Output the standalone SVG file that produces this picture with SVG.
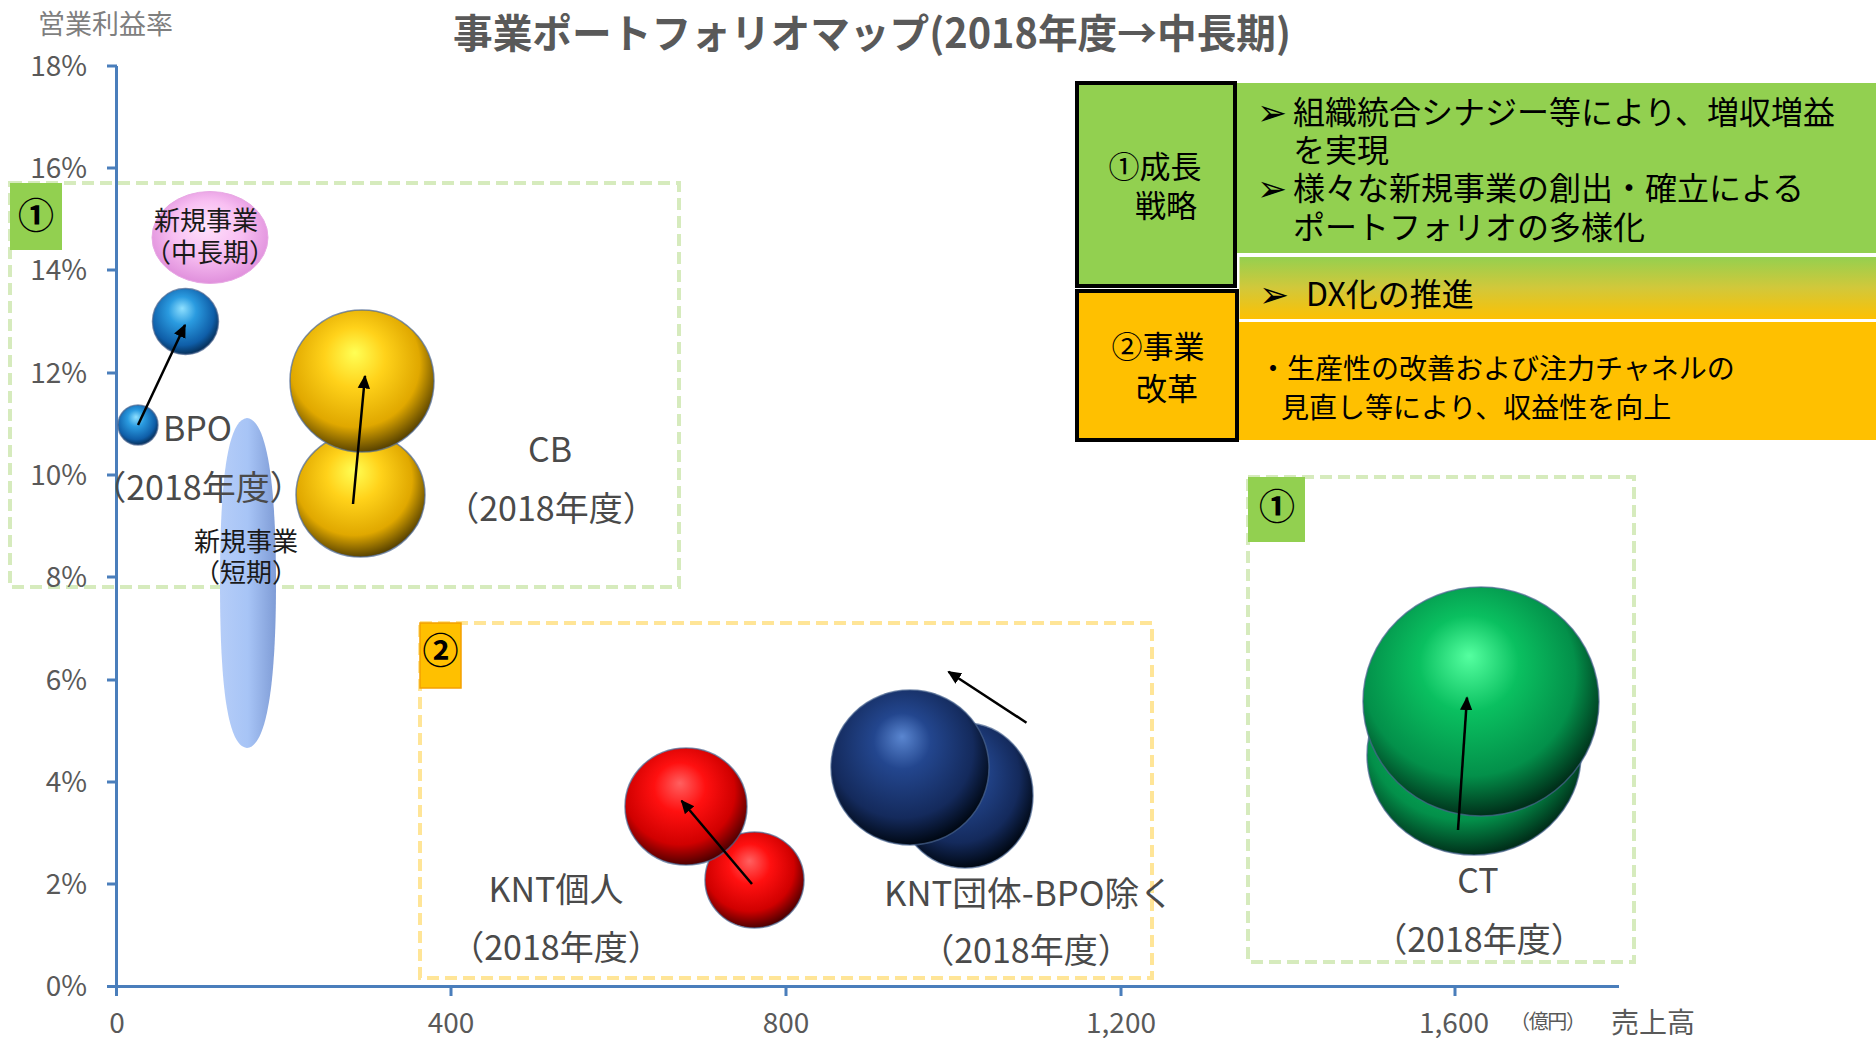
<svg xmlns="http://www.w3.org/2000/svg" width="1876" height="1038" viewBox="0 0 1876 1038">
<style>
text{font-family:"Noto Sans CJK JP","Liberation Sans",sans-serif;}
.ytl{font-size:28px;text-anchor:end;fill:#595959}
.xtl{font-size:28px;text-anchor:middle;fill:#595959}
.lbl{font-size:34px;fill:#4a4a4a;text-anchor:middle}
.sm{font-size:26px;fill:#1a1a1a;text-anchor:middle}
.ax{stroke:#4a7ebb;stroke-width:3;fill:none}
.dg{fill:none;stroke:#d6ebbd;stroke-width:4;stroke-dasharray:12 6}
.dy{fill:none;stroke:#ffe597;stroke-width:4;stroke-dasharray:12 6}
.ball{stroke:#4a6590;stroke-width:1.5;stroke-opacity:.7}
.arr{stroke:#000;stroke-width:2.5;fill:none;marker-end:url(#ah)}
.pt{font-size:32px;fill:#000}
.pt2{font-size:28px;fill:#000}
.bx{font-size:31px;fill:#000;text-anchor:middle}
.bul{font-family:"DejaVu Sans",sans-serif;font-size:36px;fill:#000}
.num{font-size:36px;font-weight:700;fill:#000;text-anchor:middle}
</style>
<defs>
<marker id="ah" viewBox="0 0 10 10" refX="9" refY="5" markerWidth="5.5" markerHeight="5.5" orient="auto"><path d="M0,0.5 L10,5 L0,9.5 z" fill="#000"/></marker>
<radialGradient id="gBlue" cx=".45" cy=".4" r=".6" fx=".45" fy=".3"><stop offset="0" stop-color="#8fe0ff"/><stop offset=".35" stop-color="#2a9be0"/><stop offset=".8" stop-color="#0f5ea8"/><stop offset="1" stop-color="#06305a"/></radialGradient>
<radialGradient id="gGold" cx=".45" cy=".4" r=".6" fx=".45" fy=".3"><stop offset="0" stop-color="#ffff55"/><stop offset=".35" stop-color="#ffd21a"/><stop offset=".75" stop-color="#e0a800"/><stop offset="1" stop-color="#5c4500"/></radialGradient>
<radialGradient id="gRed" cx=".45" cy=".4" r=".6" fx=".45" fy=".3"><stop offset="0" stop-color="#ff6060"/><stop offset=".35" stop-color="#ff1010"/><stop offset=".75" stop-color="#d00000"/><stop offset="1" stop-color="#500000"/></radialGradient>
<radialGradient id="gNavy" cx=".45" cy=".4" r=".6" fx=".45" fy=".3"><stop offset="0" stop-color="#5a86d0"/><stop offset=".3" stop-color="#23468e"/><stop offset=".75" stop-color="#142a5c"/><stop offset="1" stop-color="#000814"/></radialGradient>
<radialGradient id="gGreen" cx=".45" cy=".4" r=".6" fx=".45" fy=".3"><stop offset="0" stop-color="#55ffa0"/><stop offset=".35" stop-color="#0ac060"/><stop offset=".75" stop-color="#03904a"/><stop offset="1" stop-color="#00301a"/></radialGradient>
<radialGradient id="gPink" cx=".5" cy=".45" r=".55" fx=".45" fy=".35"><stop offset="0" stop-color="#ffe4fc"/><stop offset=".55" stop-color="#f8bff2"/><stop offset="1" stop-color="#e090dc"/></radialGradient>
<linearGradient id="gLB" x1="0" y1="0" x2="1" y2="0"><stop offset="0" stop-color="#b5cdf8"/><stop offset=".5" stop-color="#a7c4f6"/><stop offset="1" stop-color="#7f9cd6"/></linearGradient>
<linearGradient id="gDX" x1="0" y1="0" x2="0" y2="1"><stop offset="0" stop-color="#92d050"/><stop offset=".5" stop-color="#d2c83a"/><stop offset="1" stop-color="#ffc000"/></linearGradient>
</defs>

<g id="title">
<text x="453" y="48" font-size="40" font-weight="700" fill="#595959" textLength="838" lengthAdjust="spacingAndGlyphs">事業ポートフォリオマップ(2018年度→中長期)</text>
</g>

<g id="zones">
<rect class="dg" x="10" y="183" width="669" height="404"/>
<rect class="dy" x="420" y="623" width="732" height="355"/>
<rect class="dg" x="1248" y="477" width="386" height="485"/>
</g>

<g id="axes">
<path class="ax" d="M116.5,66 V996 M116,986.5 H1619"/>
<path class="ax" d="M107,66 H117 M107,168 H117 M107,270 H117 M107,373 H117 M107,475 H117 M107,577 H117 M107,680 H117 M107,782 H117 M107,884 H117 M107,986.5 H117"/>
<path class="ax" d="M451,986 V996 M786,986 V996 M1121,986 V996 M1455,986 V996"/>
<text x="38" y="34" font-size="27" fill="#7f7f7f">営業利益率</text>
<text class="ytl" x="87" y="76">18%</text>
<text class="ytl" x="87" y="178">16%</text>
<text class="ytl" x="87" y="280">14%</text>
<text class="ytl" x="87" y="383">12%</text>
<text class="ytl" x="87" y="485">10%</text>
<text class="ytl" x="87" y="587">8%</text>
<text class="ytl" x="87" y="690">6%</text>
<text class="ytl" x="87" y="792">4%</text>
<text class="ytl" x="87" y="894">2%</text>
<text class="ytl" x="87" y="996">0%</text>
<text class="xtl" x="117" y="1033">0</text>
<text class="xtl" x="451" y="1033">400</text>
<text class="xtl" x="786" y="1033">800</text>
<text class="xtl" x="1121" y="1033">1,200</text>
<text class="xtl" x="1454" y="1033">1,600</text>
<text x="1510" y="1029" font-size="20" fill="#595959" textLength="76">（億円）</text>
<text x="1611" y="1033" font-size="28" fill="#595959">売上高</text>
</g>

<g id="zone1-label"><rect x="10" y="183" width="52" height="67" fill="#92d050"/><text class="num" x="36" y="229">①</text></g>
<g id="zone2-label"><rect x="420" y="623" width="41" height="65" fill="#ffc000" stroke="#f4a000" stroke-width="1.5"/><text class="num" x="440.5" y="664" font-size="34">②</text></g>
<g id="zone3-label"><rect x="1248" y="477" width="57" height="65" fill="#92d050"/><text class="num" x="1277" y="520">①</text></g>

<g id="new-short">
<path d="M247,418 C268,420 276,490 276,583 C276,676 268,746 247,748 C226,746 220,676 220,583 C220,490 226,420 247,418 Z" fill="url(#gLB)"/>
<text class="sm" x="246" y="551">新規事業</text>
<text class="sm" x="246" y="582">（短期）</text>
</g>

<g id="new-mid">
<ellipse cx="210" cy="237.5" rx="58" ry="46" fill="url(#gPink)" stroke="#e8a8e4" stroke-width="1"/>
<text class="sm" x="206" y="230">新規事業</text>
<text class="sm" x="210" y="262">（中長期）</text>
</g>

<g id="bpo">
<circle class="ball" cx="138" cy="425" r="20" fill="url(#gBlue)"/>
<circle class="ball" cx="185.5" cy="321.5" r="33" fill="url(#gBlue)"/>
<text x="163" y="441" font-size="34" fill="#4a4a4a">BPO</text>
<text class="lbl" x="198" y="500">（2018年度）</text>
</g>

<g id="cb">
<ellipse class="ball" cx="360.5" cy="495" rx="64.5" ry="62" fill="url(#gGold)"/>
<ellipse class="ball" cx="362" cy="381" rx="72" ry="71" fill="url(#gGold)"/>
<text class="lbl" x="550" y="462">CB</text>
<text class="lbl" x="551" y="521">（2018年度）</text>
</g>

<g id="knt-individual">
<ellipse class="ball" cx="754.5" cy="880" rx="49.5" ry="48" fill="url(#gRed)"/>
<ellipse class="ball" cx="686" cy="806.5" rx="61" ry="58.5" fill="url(#gRed)"/>
<text class="lbl" x="556" y="902">KNT個人</text>
<text class="lbl" x="556" y="960">（2018年度）</text>
</g>

<g id="knt-group">
<ellipse class="ball" cx="965" cy="795.5" rx="68" ry="72.5" fill="url(#gNavy)"/>
<ellipse class="ball" cx="910" cy="767.5" rx="79" ry="77.5" fill="url(#gNavy)"/>
<text x="884" y="906" font-size="34" fill="#4a4a4a" textLength="290" lengthAdjust="spacingAndGlyphs">KNT団体-BPO除く</text>
<text class="lbl" x="1026" y="963">（2018年度）</text>
</g>

<g id="ct">
<ellipse class="ball" cx="1474" cy="755" rx="107" ry="100" fill="url(#gGreen)"/>
<ellipse class="ball" cx="1481" cy="701.5" rx="118" ry="114.5" fill="url(#gGreen)"/>
<text class="lbl" x="1478" y="893">CT</text>
<text class="lbl" x="1479" y="952">（2018年度）</text>
</g>

<g id="connectors">
<line class="arr" x1="138" y1="425" x2="185" y2="325"/>
<line class="arr" x1="353" y1="504" x2="365" y2="376"/>
<line class="arr" x1="752" y1="884" x2="681.6" y2="800.7"/>
<line class="arr" x1="1026.5" y1="722.7" x2="948.5" y2="671.7"/>
<line class="arr" x1="1458" y1="830" x2="1467" y2="697.7"/>
</g>

<g id="growth-panel">
<rect x="1235" y="83" width="641" height="170" fill="#92d050"/>
<text class="bul" x="1257" y="125">➢</text>
<text class="pt" x="1293" y="124">組織統合シナジー等により、増収増益</text>
<text class="pt" x="1293" y="162">を実現</text>
<text class="bul" x="1257" y="201">➢</text>
<text class="pt" x="1293" y="200">様々な新規事業の創出・確立による</text>
<text class="pt" x="1293" y="239">ポートフォリオの多様化</text>
</g>

<g id="dx-panel">
<rect x="1238" y="255.5" width="640" height="65" fill="url(#gDX)" stroke="#fff" stroke-width="3"/>
<text class="bul" x="1259" y="307">➢</text>
<text class="pt" x="1306" y="306">DX化の推進</text>
</g>

<g id="reform-panel">
<rect x="1237" y="322" width="639" height="118" fill="#ffc000"/>
<text class="pt2" x="1259" y="379">・生産性の改善および注力チャネルの</text>
<text class="pt2" x="1281" y="418">見直し等により、収益性を向上</text>
</g>

<g id="box-growth">
<rect x="1077" y="83" width="158" height="203" fill="#92d050" stroke="#000" stroke-width="4"/>
<text class="bx" x="1155" y="178">①成長</text>
<text class="bx" x="1166" y="217">戦略</text>
</g>

<g id="box-reform">
<rect x="1077" y="291" width="160" height="149" fill="#ffc000" stroke="#000" stroke-width="4"/>
<text class="bx" x="1158" y="358">②事業</text>
<text class="bx" x="1167" y="400">改革</text>
</g>
</svg>
